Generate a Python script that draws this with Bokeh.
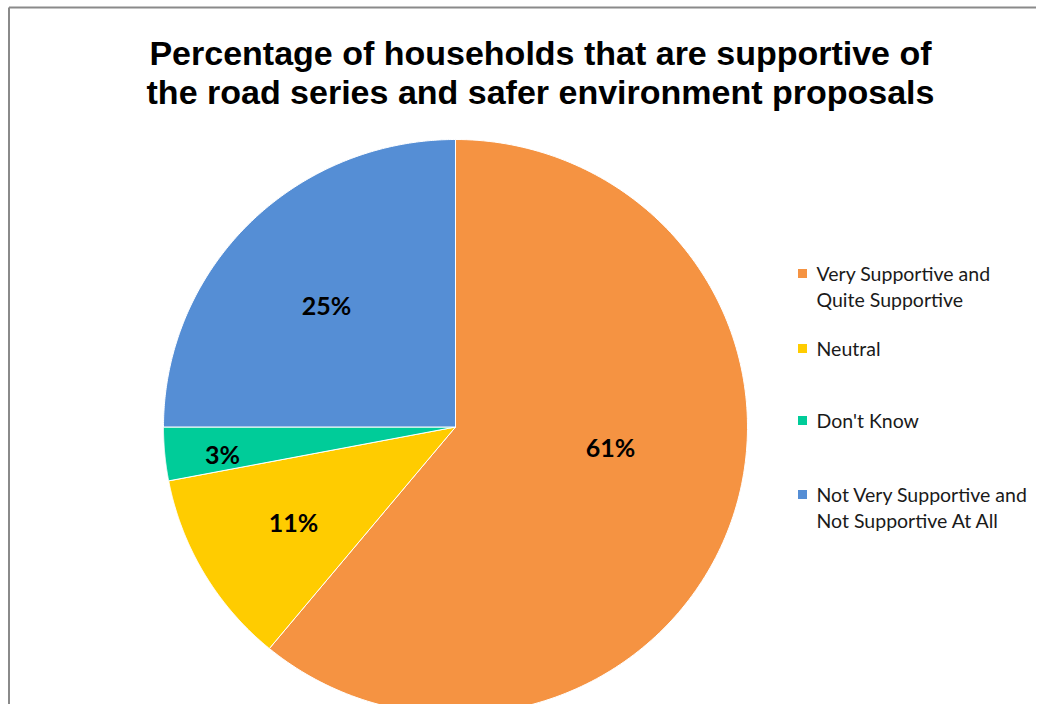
import numpy as np
from bokeh.plotting import figure
from bokeh.models import Range1d
from bokeh.core.properties import value
from bokeh.embed import file_html
from bokeh.resources import INLINE

# ---- data ----
categories = ["Very Supportive and\nQuite Supportive", "Neutral", "Don't Know",
              "Not Very Supportive and\nNot Supportive At All"]
percentages = [61, 11, 3, 25]
colors = ["#F59342", "#FFCC00", "#00CC99", "#558ED5"]
title_lines = ["Percentage of households that are supportive of",
               "the road series and safer environment proposals"]

# ---- layout (screen pixels) ----
W, H = 1036, 704
def X(sx): return sx
def Y(sy): return H - sy

cx, cy = X(455), Y(426.5)
rx, ry = 292, 287.5

p = figure(width=W, height=H, output_backend="svg", toolbar_location=None,
           x_range=Range1d(0, W), y_range=Range1d(0, H), min_border=0,
           outline_line_color=None, background_fill_color="white")
p.xaxis.visible = False
p.yaxis.visible = False
p.xgrid.visible = False
p.ygrid.visible = False

# frame lines (left and top)
p.segment(x0=[X(8.5), X(8.5)], y0=[0, Y(7)], x1=[X(8.5), W], y1=[Y(7), Y(7)],
          line_color="#8a8a8a", line_width=2)

# pie slices as elliptical polygons, clockwise from top
vals = np.array(percentages, dtype=float)
fr = vals / vals.sum()
ends = np.cumsum(fr)
starts = ends - fr
xs, ys = [], []
for s, e in zip(starts, ends):
    th = np.pi / 2 - 2 * np.pi * np.linspace(s, e, 200)
    xs.append([cx] + list(cx + rx * np.cos(th)) + [cx])
    ys.append([cy] + list(cy + ry * np.sin(th)) + [cy])
p.patches(xs, ys, fill_color=colors, line_color="white", line_width=1)

# data labels
label_pos = [(610, 446), (293, 521), (222, 453), (326, 304)]
p.text(x=[X(a) for a, b in label_pos], y=[Y(b) for a, b in label_pos],
       text=[f"{v}%" for v in percentages], text_align="center",
       text_baseline="middle", text_font=value("Lato"), text_font_style="bold",
       text_font_size="25px", text_color="#000000")

# title
p.text(x=[X(540), X(540)], y=[Y(52), Y(91)], text=title_lines,
       text_align="center", text_baseline="middle",
       text_font=value("Liberation Sans"), text_font_style="bold",
       text_font_size="34px", text_color="#000000")

# legend
leg_y = [273, 348, 420, 494]
p.rect(x=[X(802)] * 4, y=[Y(v) for v in leg_y], width=9, height=9,
       fill_color=colors, line_color=None)
lx, ly = [], []
lt = []
for cat, yy in zip(categories, leg_y):
    for i, line in enumerate(cat.split("\n")):
        lx.append(X(816))
        ly.append(Y(yy + i * 26))
        lt.append(line)
p.text(x=lx, y=ly, text=lt, text_align="left", text_baseline="middle",
       text_font=value("Lato"), text_font_size="19.5px", text_color="#1a1a1a")

open("out.html", "w").write(file_html(p, INLINE))
